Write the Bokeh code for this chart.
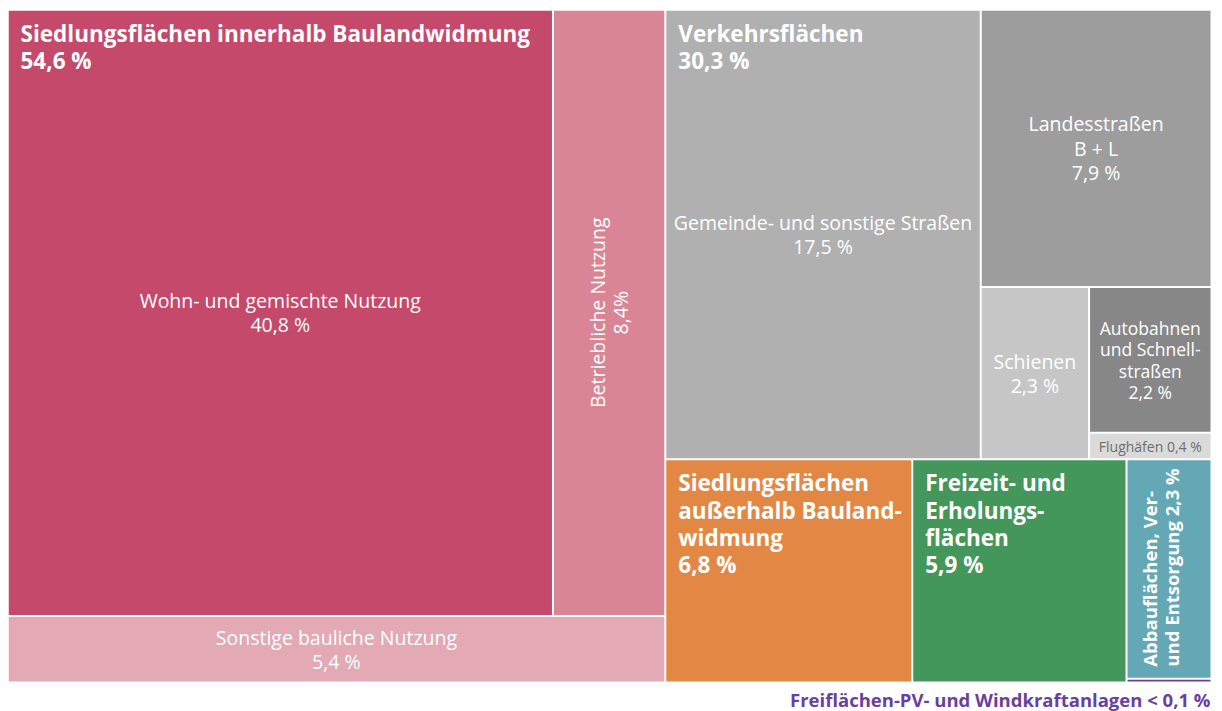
import math
from bokeh.plotting import figure
from bokeh.models import ColumnDataSource, Range1d
from bokeh.core.properties import value
from bokeh.embed import file_html
from bokeh.resources import INLINE

# ---------------- data ----------------
leaf_names = [
    "Wohn- und gemischte Nutzung",
    "Betriebliche Nutzung",
    "Sonstige bauliche Nutzung",
    "Gemeinde- und sonstige Straßen",
    "Landesstraßen\nB + L",
    "Schienen",
    "Autobahnen\nund Schnell-\nstraßen",
    "Flughäfen",
    "Siedlungsflächen\naußerhalb Bauland-\nwidmung",
    "Freizeit- und\nErholungs-\nflächen",
    "Abbauflächen, Ver-\nund Entsorgung",
    "Freiflächen-PV- und Windkraftanlagen",
]
leaf_values = [40.8, 8.4, 5.4, 17.5, 7.9, 2.3, 2.2, 0.4, 6.8, 5.9, 2.3, 0.04]
leaf_colors = ["#C4496A", "#DA8595", "#E3A9B5", "#B0B0B0", "#9D9D9D", "#C6C6C6",
               "#878787", "#DADADA", "#E38844", "#44975A", "#64A8B5", "#6B3FA0"]

group_names = ["Siedlungsflächen innerhalb Baulandwidmung", "Verkehrsflächen"]
group_values = [54.6, 30.3]
group_members = [[0, 1, 2], [3, 4, 5, 6, 7]]

footer_text = "Freiflächen-PV- und Windkraftanlagen < 0,1 %"

# layout structure: "h" = children side by side, "v" = children stacked
tree = ("h", [
    ("v", [("h", [0, 1]), 2]),
    ("v", [
        ("h", [3, ("v", [4, ("h", [5, ("v", [6, 7])])])]),
        ("h", [8, 9, ("v", [10, 11])]),
    ]),
])

W, H = 1204, 673   # treemap extent in screen px
FRAME_H = 701      # treemap plus room for the footer line
GAP = 2


def node_sum(node):
    if isinstance(node, int):
        return leaf_values[node]
    return sum(node_sum(c) for c in node[1])


rects = {}


def layout(node, x0, y0, x1, y1):
    if isinstance(node, int):
        rects[node] = (x0, y0, x1, y1)
        return
    d, children = node
    tot = node_sum(node)
    pos = x0 if d == "h" else y0
    for c in children:
        frac = node_sum(c) / tot
        if d == "h":
            nxt = pos + frac * (x1 - x0)
            layout(c, pos, y0, nxt, y1)
        else:
            nxt = pos + frac * (y1 - y0)
            layout(c, x0, pos, x1, nxt)
        pos = nxt


layout(tree, 0, 0, W, H)


def fmt(v):
    return f"{v:.1f}".replace(".", ",") + " %"


# ---------------- figure ----------------
p = figure(width=W + 8, height=FRAME_H + 10, output_backend="svg", toolbar_location=None,
           x_range=Range1d(0, W), y_range=Range1d(FRAME_H, 0),
           min_border_left=8, min_border_right=0, min_border_top=10, min_border_bottom=0)
p.axis.visible = False
p.grid.visible = False
p.outline_line_color = None
p.background_fill_color = "white"
p.border_fill_color = "white"

n = len(leaf_values)
src = ColumnDataSource(dict(
    left=[rects[i][0] for i in range(n)],
    right=[rects[i][2] - GAP for i in range(n)],
    top=[rects[i][1] for i in range(n)],
    bottom=[rects[i][3] - GAP for i in range(n)],
    color=leaf_colors,
))
p.quad(left="left", right="right", top="top", bottom="bottom", source=src,
       fill_color="color", line_color=None)

FONT = "Open Sans"


def cx(i):
    return (rects[i][0] + rects[i][2] - GAP) / 2


def cy(i):
    return (rects[i][1] + rects[i][3] - GAP) / 2


# centered labels
centered = [(0, 19.5), (2, 19.5), (3, 19.5), (4, 19.5), (5, 19.5), (6, 17.5)]
csrc = ColumnDataSource(dict(
    x=[cx(i) for i, _ in centered],
    y=[cy(i) for i, _ in centered],
    t=[leaf_names[i] + "\n" + fmt(leaf_values[i]) for i, _ in centered],
    s=[f"{fs}px" for _, fs in centered],
))
p.text(x="x", y="y", text="t", source=csrc, text_font=value(FONT), text_font_size="s",
       text_color="white", text_align="center", text_baseline="middle", text_line_height=0.9)

# small airport label
p.text(x=[cx(7)], y=[cy(7)], text=[leaf_names[7] + " " + fmt(leaf_values[7])],
       text_font=value(FONT), text_font_size="14px", text_color="#6E6E6E",
       text_align="center", text_baseline="middle")

# rotated centered label (Betriebliche Nutzung)
p.text(x=[cx(1)], y=[cy(1)], text=[leaf_names[1] + "\n" + fmt(leaf_values[1]).replace(" ", "")],
       angle=math.pi / 2, text_font=value(FONT), text_font_size="19.5px", text_color="white",
       text_align="center", text_baseline="middle", text_line_height=0.88)

# header labels (bold, top-left)
hx, hy, ht = [], [], []
for gi, members in enumerate(group_members):
    hx.append(min(rects[i][0] for i in members) + 12)
    hy.append(min(rects[i][1] for i in members) + 7)
    ht.append(group_names[gi] + "\n" + fmt(group_values[gi]))
for i in [8, 9]:
    hx.append(rects[i][0] + 12)
    hy.append(rects[i][1] + 7)
    ht.append(leaf_names[i] + "\n" + fmt(leaf_values[i]))
p.text(x=hx, y=hy, text=ht, text_font=value(FONT), text_font_size="22.5px",
       text_font_style="bold", text_color="white", text_align="left",
       text_baseline="top", text_line_height=0.88)

# rotated header label (Abbauflächen)
p.text(x=[rects[10][0] + 9], y=[rects[10][3] - GAP - 11],
       text=[leaf_names[10] + " " + fmt(leaf_values[10])],
       angle=math.pi / 2, text_font=value(FONT), text_font_size="18.5px",
       text_font_style="bold", text_color="white", text_align="left",
       text_baseline="top", text_line_height=0.9)

# footer for the tiny PV slice
p.text(x=[rects[11][2] - GAP], y=[H + 16], text=[footer_text],
       text_font=value(FONT), text_font_size="18.5px", text_font_style="bold",
       text_color=leaf_colors[11], text_align="right", text_baseline="middle")

open("out.html", "w").write(file_html(p, INLINE))
